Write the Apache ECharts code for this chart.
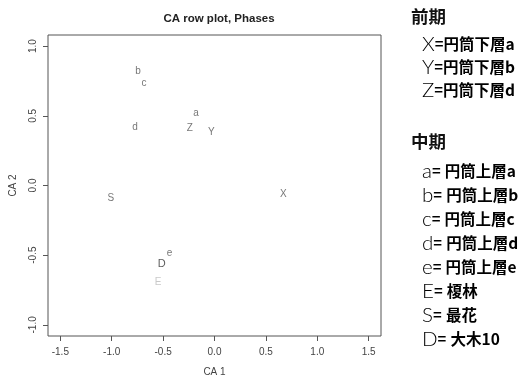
<!DOCTYPE html>
<html>
<head>
<meta charset="utf-8">
<script src="https://cdn.jsdelivr.net/npm/echarts@6/dist/echarts.min.js"></script>
<style>
html,body{margin:0;padding:0;background:#fff;}
#main{width:522px;height:383px;}
</style>
</head>
<body>
<div id="main"></div>
<script>
// ---- data ----
const labels = ['b', 'c', 'a', 'd', 'Z', 'Y', 'S', 'X', 'e', 'D', 'E'];
const ca1 = [-0.743, -0.685, -0.180, -0.772, -0.241, -0.030, -1.008, 0.669, -0.438, -0.513, -0.548];
const ca2 = [0.820, 0.732, 0.521, 0.421, 0.408, 0.382, -0.092, -0.060, -0.488, -0.564, -0.693];
const xTicks = [-1.5, -1.0, -0.5, 0.0, 0.5, 1.0, 1.5];
const yTicks = [-1.0, -0.5, 0.0, 0.5, 1.0];
const groupEarly = '前期';
const earlyKeys = ['X', 'Y', 'Z'];
const earlyNames = ['円筒下層a', '円筒下層b', '円筒下層d'];
const groupMiddle = '中期';
const middleKeys = ['a', 'b', 'c', 'd', 'e', 'E', 'S', 'D'];
const middleNames = ['円筒上層a', '円筒上層b', '円筒上層c', '円筒上層d', '円筒上層e', '榎林', '最花', '大木10'];

// ---- styles ----
const labelColor = { D: '#333', E: '#bbbbbb' };
const labelSize = { D: 11 };
const FONT = '"Liberation Sans", Arial, sans-serif';
const THIN = 'Lato, "Liberation Sans", sans-serif';
const CJK = '"Noto Sans CJK JP", "Noto Sans CJK SC", sans-serif';

const chart = echarts.init(document.getElementById('main'), null, { renderer: 'canvas' });

const pts = labels.map((n, i) => ({
  name: n,
  value: [ca1[i], ca2[i]],
  label: {
    color: labelColor[n] || '#555',
    fontSize: labelSize[n] || 10
  }
}));

const fmt = v => (Math.round(v * 10) / 10).toFixed(1);

function legendRow(key, name, y, spaced, keyColor) {
  return {
    type: 'text',
    left: 422,
    top: y - 11,
    style: {
      text: '{l|' + key + '}{e|=' + (spaced ? ' ' : '') + '}{t|' + name + '}',
      rich: {
        l: { fontFamily: THIN, fontSize: 20.5, color: keyColor || '#666', fontWeight: 300, height: 22, verticalAlign: 'middle' },
        e: { fontFamily: FONT, fontSize: 15, color: '#111', fontWeight: 'bold', height: 22, verticalAlign: 'middle' },
        t: { fontFamily: CJK, fontSize: 15.5, color: '#111', fontWeight: 'bold', height: 22, verticalAlign: 'middle' }
      }
    }
  };
}

const graphics = [];
graphics.push({ type: 'text', left: 411, top: 8, style: { text: groupEarly, fontFamily: CJK, fontSize: 17.5, fontWeight: 'bold', fill: '#111' } });
const earlyY = [45, 68, 91];
earlyKeys.forEach((k, i) => graphics.push(legendRow(k, earlyNames[i], earlyY[i], false)));
graphics.push({ type: 'text', left: 411, top: 133, style: { text: groupMiddle, fontFamily: CJK, fontSize: 17.5, fontWeight: 'bold', fill: '#111' } });
const middleY = [172, 196, 220, 244, 268, 292, 316, 340];
middleKeys.forEach((k, i) => graphics.push(legendRow(k, middleNames[i], middleY[i], true, k === 'E' ? '#aaa' : '#666')));

const option = {
  backgroundColor: '#fff',
  animation: false,
  title: {
    text: 'CA row plot, Phases',
    left: 214,
    textAlign: 'center',
    top: 8,
    textStyle: { fontFamily: FONT, fontSize: 11.5, fontWeight: 'bold', color: '#222' }
  },
  grid: {
    left: 47, right: 141, top: 35, bottom: 47,
    show: true, borderColor: '#555', borderWidth: 1, backgroundColor: 'transparent'
  },
  xAxis: {
    type: 'value',
    min: -1.62, max: 1.62,
    name: 'CA 1',
    nameLocation: 'middle',
    nameGap: 31,
    nameTextStyle: { fontFamily: FONT, fontSize: 10, color: '#444' },
    axisLine: { show: false, onZero: false },
    splitLine: { show: false },
    axisTick: { show: true, length: 5, customValues: xTicks, lineStyle: { color: '#555' } },
    axisLabel: { customValues: xTicks, formatter: fmt, margin: 11, fontFamily: FONT, fontSize: 10, color: '#444' }
  },
  yAxis: {
    type: 'value',
    min: -1.08, max: 1.08,
    name: 'CA 2',
    nameLocation: 'middle',
    nameGap: 30,
    nameRotate: 90,
    nameTextStyle: { fontFamily: FONT, fontSize: 10, color: '#444' },
    axisLine: { show: false, onZero: false },
    splitLine: { show: false },
    axisTick: { show: true, length: 5, customValues: yTicks, lineStyle: { color: '#555' } },
    axisLabel: { customValues: yTicks, formatter: fmt, rotate: 90, margin: 10, fontFamily: FONT, fontSize: 10, color: '#444' }
  },
  series: [{
    type: 'scatter',
    symbolSize: 1,
    itemStyle: { color: 'rgba(0,0,0,0)' },
    label: { show: true, position: 'inside', formatter: '{b}', fontFamily: FONT },
    emphasis: { disabled: true },
    data: pts
  }],
  graphic: graphics
};
chart.setOption(option);
</script>
</body>
</html>
